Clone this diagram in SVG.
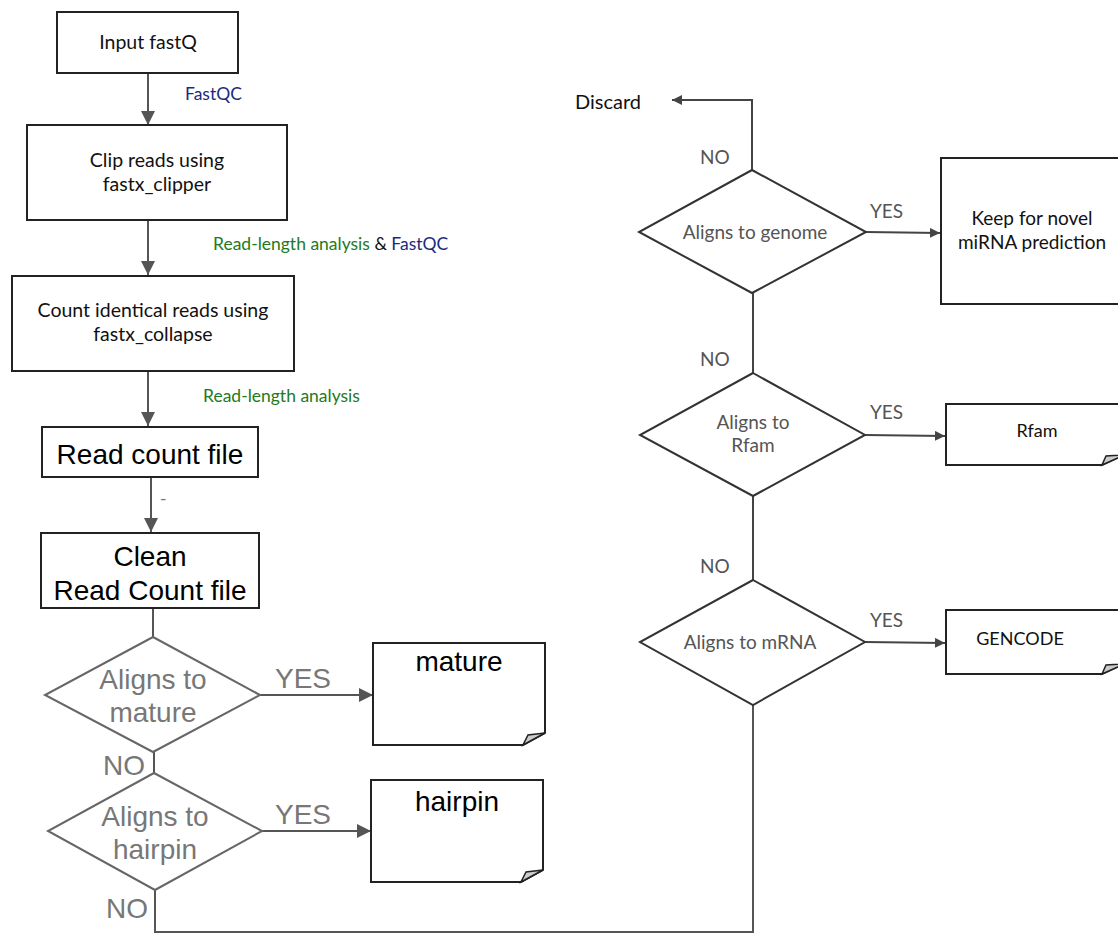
<svg xmlns="http://www.w3.org/2000/svg" width="1118" height="935" viewBox="0 0 1118 935">
<defs>
<marker id="ah" viewBox="0 0 10 10" refX="10" refY="5" markerUnits="userSpaceOnUse" markerWidth="14" markerHeight="14" orient="auto"><path d="M0,0 L10,5 L0,10 z" fill="#555"/></marker>
<marker id="ahs" viewBox="0 0 10 10" refX="10" refY="5" markerUnits="userSpaceOnUse" markerWidth="10" markerHeight="10" orient="auto"><path d="M0,0 L10,5 L0,10 z" fill="#444"/></marker>
<style>
.box{fill:#fff;stroke:#222;stroke-width:2}
.doc{fill:#fff;stroke:#222;stroke-width:2}
.curl{fill:#ccc;stroke:#222;stroke-width:1.5}
.dg{fill:#fff;stroke:#666;stroke-width:2}
.dr{fill:#fff;stroke:#333;stroke-width:2}
.ln{fill:none;stroke:#555;stroke-width:2}
.lr{fill:none;stroke:#444;stroke-width:2}
.t{font-family:"Lato","Open Sans",sans-serif;fill:#111;text-anchor:middle}
.a{font-family:"Liberation Sans",Arial,sans-serif;text-anchor:middle;fill:#000;font-size:28px}
.g{font-family:"Liberation Sans",Arial,sans-serif;fill:#777;font-size:28px}
.r{font-family:"Lato","Open Sans",sans-serif;fill:#555;font-size:19px}
.lab{font-family:"Lato","Open Sans",sans-serif;font-size:17.5px}
</style>
</defs>
<g id="connectors">
<line class="ln" x1="148" y1="73" x2="148" y2="125" marker-end="url(#ah)"/>
<line class="ln" x1="148" y1="220" x2="148" y2="275" marker-end="url(#ah)"/>
<line class="ln" x1="148" y1="371" x2="148" y2="426" marker-end="url(#ah)"/>
<line class="ln" x1="151" y1="477" x2="151" y2="532" marker-end="url(#ah)"/>
<line class="ln" x1="153" y1="608" x2="153" y2="637"/>
<line class="ln" x1="260" y1="695" x2="373" y2="695" marker-end="url(#ah)"/>
<line class="ln" x1="154" y1="752" x2="154" y2="773"/>
<line class="ln" x1="262" y1="831" x2="371" y2="831" marker-end="url(#ah)"/>
<polyline class="ln" points="155,890 155,932 753,932 753,705"/>
<polyline class="lr" points="752,170 752,100 672,100" marker-end="url(#ahs)"/>
<line class="lr" x1="866" y1="232" x2="940" y2="233" marker-end="url(#ahs)"/>
<line class="lr" x1="753" y1="293" x2="753" y2="373"/>
<line class="lr" x1="865" y1="435" x2="945" y2="436" marker-end="url(#ahs)"/>
<line class="lr" x1="753" y1="496" x2="753" y2="580"/>
<line class="lr" x1="865" y1="642" x2="945" y2="643" marker-end="url(#ahs)"/>
<text x="185" y="100" class="lab" fill="#1a2a80">FastQC</text>
<text x="213" y="250" class="lab"><tspan fill="#237a1c">Read-length analysis</tspan><tspan fill="#111"> &amp; </tspan><tspan fill="#1a2a80">FastQC</tspan></text>
<text x="203" y="402" class="lab" fill="#237a1c">Read-length analysis</text>
<text x="160" y="505" class="lab" fill="#777">-</text>
<text x="275" y="688" class="g">YES</text>
<text x="103" y="775" class="g">NO</text>
<text x="275" y="824" class="g">YES</text>
<text x="106" y="918" class="g">NO</text>
<text x="700" y="164" class="r">NO</text>
<text x="870" y="218" class="r">YES</text>
<text x="700" y="366" class="r">NO</text>
<text x="870" y="419" class="r">YES</text>
<text x="700" y="573" class="r">NO</text>
<text x="870" y="627" class="r">YES</text>
</g>
<g id="input">
<rect class="box" x="57" y="12" width="181" height="61"/>
<text class="t" x="148" y="49" font-size="19.5">Input fastQ</text>
</g>
<g id="clip">
<rect class="box" x="27" y="125" width="260" height="95"/>
<text class="t" x="157" y="167" font-size="19.5">Clip reads using</text>
<text class="t" x="157" y="191" font-size="19.5">fastx_clipper</text>
</g>
<g id="count">
<rect class="box" x="12" y="276" width="282" height="95"/>
<text class="t" x="153" y="317" font-size="19.5">Count identical reads using</text>
<text class="t" x="153" y="341" font-size="19.5">fastx_collapse</text>
</g>
<g id="readcount">
<rect class="box" x="42" y="427" width="216" height="50"/>
<text class="a" x="150" y="464">Read count file</text>
</g>
<g id="clean">
<rect class="box" x="41" y="533" width="218" height="75"/>
<text class="a" x="150" y="566">Clean</text>
<text class="a" x="150" y="600">Read Count file</text>
</g>
<g id="d-mature">
<polygon class="dg" points="153,637 260,695 153,752 45,695"/>
<text class="g" x="153" y="689" text-anchor="middle">Aligns to</text>
<text class="g" x="153" y="722" text-anchor="middle">mature</text>
</g>
<g id="mature">
<path class="doc" d="M373,643 H545 V733 L523,745 H373 Z"/>
<path class="curl" d="M523,745 L545,733 L528,735 Z"/>
<text class="a" x="459" y="671">mature</text>
</g>
<g id="d-hairpin">
<polygon class="dg" points="154,773 262,831 155,890 48,831"/>
<text class="g" x="155" y="826" text-anchor="middle">Aligns to</text>
<text class="g" x="155" y="859" text-anchor="middle">hairpin</text>
</g>
<g id="hairpin">
<path class="doc" d="M371,780 H543 V870 L521,882 H371 Z"/>
<path class="curl" d="M521,882 L543,870 L526,872 Z"/>
<text class="a" x="457" y="811">hairpin</text>
</g>
<g id="discard">
<text class="t" x="608" y="109" font-size="20">Discard</text>
</g>
<g id="d-genome">
<polygon class="dr" points="752,170 866,232 752,293 639,232"/>
<text class="r" x="755" y="239" text-anchor="middle">Aligns to genome</text>
</g>
<g id="novel">
<rect class="box" x="941" y="158" width="180" height="146"/>
<text class="t" x="1032" y="225" font-size="19">Keep for novel</text>
<text class="t" x="1032" y="249" font-size="19">miRNA prediction</text>
</g>
<g id="d-rfam">
<polygon class="dr" points="753,373 865,435 753,496 640,435"/>
<text class="r" x="753" y="429" text-anchor="middle" font-size="18">Aligns to</text>
<text class="r" x="753" y="452" text-anchor="middle" font-size="18">Rfam</text>
</g>
<g id="rfam">
<path class="doc" d="M946,404 H1124 V455 L1102,465 H946 Z"/>
<path class="curl" d="M1102,465 L1124,455 L1106,456 Z"/>
<text class="t" x="1037" y="437" font-size="18">Rfam</text>
</g>
<g id="d-mrna">
<polygon class="dr" points="753,580 865,642 753,705 640,642"/>
<text class="r" x="750" y="649" text-anchor="middle">Aligns to mRNA</text>
</g>
<g id="gencode">
<path class="doc" d="M946,610 H1124 V664 L1102,674 H946 Z"/>
<path class="curl" d="M1102,674 L1124,664 L1106,665 Z"/>
<text class="t" x="1020" y="645" font-size="18">GENCODE</text>
</g>
</svg>
